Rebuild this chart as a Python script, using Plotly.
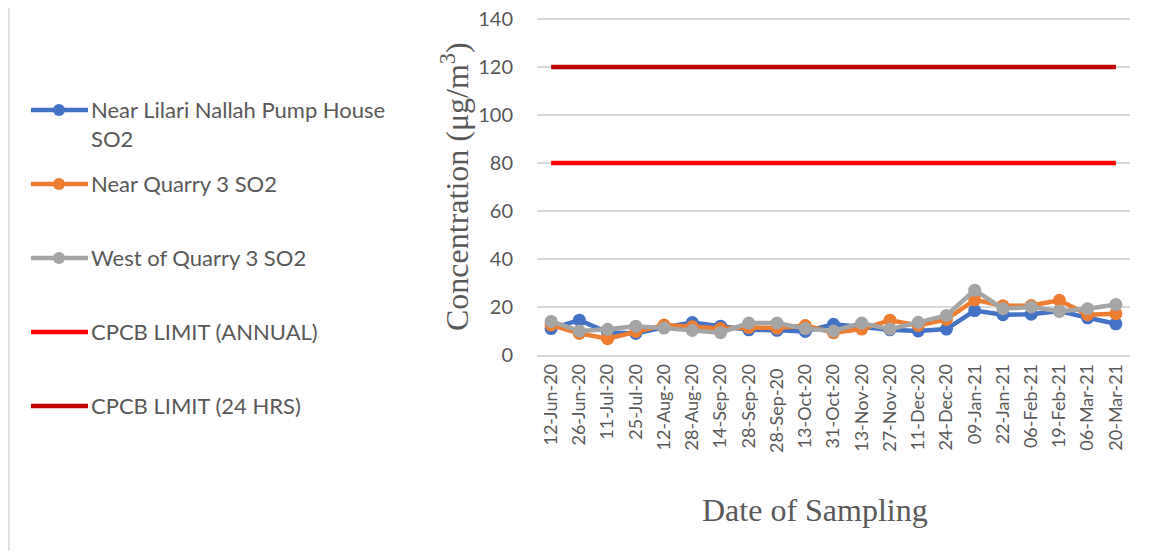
import plotly.graph_objects as go

dates = ["12-Jun-20", "26-Jun-20", "11-Jul-20", "25-Jul-20", "12-Aug-20", "28-Aug-20",
         "14-Sep-20", "28-Sep-20", "28-Sep-20 ", "13-Oct-20", "31-Oct-20", "13-Nov-20",
         "27-Nov-20", "11-Dec-20", "24-Dec-20", "09-Jan-21", "22-Jan-21", "06-Feb-21",
         "19-Feb-21", "06-Mar-21", "20-Mar-21"]

lilari = [11.0, 14.5, 9.5, 9.0, 11.5, 13.5, 12.0, 10.5, 10.3, 9.8, 12.8, 11.5,
          10.5, 10.0, 10.8, 18.5, 16.8, 17.0, 18.3, 15.5, 13.0]
quarry3 = [12.5, 9.0, 6.8, 9.8, 12.5, 11.8, 11.0, 11.5, 11.2, 12.3, 9.3, 10.8,
           14.5, 12.3, 14.8, 23.0, 20.5, 20.6, 22.8, 16.8, 17.2]
west_q3 = [14.0, 10.0, 10.7, 12.0, 11.2, 10.2, 9.3, 13.3, 13.3, 11.0, 10.0, 13.3,
           10.8, 13.6, 16.5, 27.0, 19.3, 20.0, 18.2, 19.3, 21.0]
limit_annual = [80] * len(dates)
limit_24h = [120] * len(dates)
y_ticks = [0, 20, 40, 60, 80, 100, 120, 140]

names = ["Near Lilari Nallah Pump House<br>SO2", "Near Quarry 3 SO2", "West of Quarry 3 SO2",
         "CPCB LIMIT (ANNUAL)", "CPCB LIMIT (24 HRS)"]
colors = ["#4472C4", "#ED7D31", "#A5A5A5", "#FF0000", "#C00000"]

OFF = 8  # page body margin
SW, SH = 1152, 551          # screen size
W, H = SW - OFF, SH - OFF   # figure size
# plot area in screen pixels (top a few px above the 140 gridline so it is drawn)
PX0, PX1, PY0, PY1 = 537, 1130, 14, 355
L, R, T, B = PX0 - OFF, SW - PX1, PY0 - OFF, SH - PY1
pw, ph = PX1 - PX0, PY1 - PY0
YMAX = 140 * ph / (PY1 - 19)
TXT = "#595959"
SANS = "Lato, 'Liberation Sans', sans-serif"
SERIF = "'Liberation Serif', 'Times New Roman', serif"

fig = go.Figure()
for vals, col in [(limit_annual, colors[3]), (limit_24h, colors[4])]:
    fig.add_trace(go.Scatter(x=dates, y=vals, mode="lines",
                             line=dict(color=col, width=4.5), showlegend=False))
for vals, col in [(lilari, colors[0]), (quarry3, colors[1]), (west_q3, colors[2])]:
    fig.add_trace(go.Scatter(x=dates, y=vals, mode="lines+markers",
                             line=dict(color=col, width=4.5),
                             marker=dict(color=col, size=13), showlegend=False))

# screen pixel -> paper coordinates
def px(x):
    return (x - PX0) / pw

def py(y):
    return 1 - (y - PY0) / ph

legend_y = [110, 184, 258, 332, 406]
shapes = []
annotations = []
for i, (nm, col, yy) in enumerate(zip(names, colors, legend_y)):
    shapes.append(dict(type="line", xref="paper", yref="paper", x0=px(31), x1=px(88),
                       y0=py(yy), y1=py(yy), line=dict(color=col, width=4.5)))
    if i < 3:
        shapes.append(dict(type="circle", xref="paper", yref="paper",
                           x0=px(53), x1=px(65), y0=py(yy - 6), y1=py(yy + 6),
                           fillcolor=col, line=dict(color=col, width=0)))
    annotations.append(dict(text=nm, xref="paper", yref="paper", x=px(89), y=py(yy - 16),
                            xanchor="left", yanchor="top", align="left", showarrow=False,
                            font=dict(family=SANS, size=22, color=TXT)))
# left border of chart area
shapes.append(dict(type="line", xref="paper", yref="paper", x0=px(9), x1=px(9),
                   y0=py(OFF), y1=py(SH), line=dict(color="#D9D9D9", width=1.5)))

annotations.append(dict(text="Concentration (μg/m<sup>3</sup>)", xref="paper", yref="paper",
                        x=px(455), y=py(187), xanchor="center", yanchor="middle",
                        textangle=-90, showarrow=False,
                        font=dict(family=SERIF, size=32, color=TXT)))
annotations.append(dict(text="Date of Sampling", xref="paper", yref="paper",
                        x=px(815), y=py(510), xanchor="center", yanchor="middle",
                        showarrow=False, font=dict(family=SERIF, size=32, color=TXT)))

fig.update_layout(
    width=W, height=H,
    margin=dict(l=L, r=R, t=T, b=B, autoexpand=False),
    paper_bgcolor="white", plot_bgcolor="white",
    shapes=shapes, annotations=annotations, showlegend=False,
    xaxis=dict(type="category", tickangle=-90, showgrid=False, showline=True,
               linecolor="#D9D9D9", linewidth=1.5, ticks="",
               tickfont=dict(family=SANS, size=18, color=TXT),
               range=[-0.5, len(dates) - 0.5]),
    yaxis=dict(range=[0, YMAX], tickmode="array", tickvals=y_ticks,
               showgrid=True, gridcolor="#D9D9D9", gridwidth=1.5,
               zeroline=False, showline=False, ticks="", ticklabelstandoff=23,
               ticklabeloverflow="allow",
               tickfont=dict(family=SANS, size=20, color=TXT)),
)
fig.write_html("out.html")
